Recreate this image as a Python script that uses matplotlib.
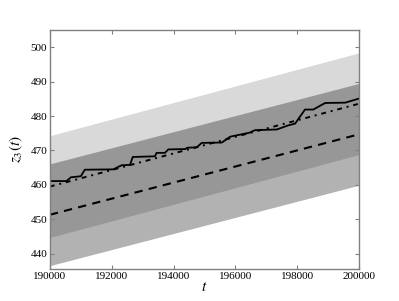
import numpy as np
import matplotlib
matplotlib.use("Agg")
import matplotlib.pyplot as plt

plt.rcParams['font.family'] = ['Liberation Serif', 'DejaVu Serif']
plt.rcParams['mathtext.fontset'] = 'stix'

# Band / trend endpoints
t_ends = [190000, 200000]
dashed_mean = [451.3, 474.7]   # lower band centre (dashed)
dotted_mean = [459.5, 483.6]   # upper band centre (dash-dot)
band_half = 14.8

# Observed trajectory (solid)
t_obs = [190000, 190540, 190680, 191000, 191130, 192050, 192320, 192590, 192680,
         193400, 193450, 193720, 193830, 194370, 194450, 194750, 194910, 195560,
         195830, 196150, 196470, 196630, 197340, 197710, 197930, 198250, 198520,
         198900, 199550, 200000]
z_obs = [461.1, 461.1, 462.2, 462.5, 464.4, 464.5, 465.7, 465.8, 468.1,
         468.3, 469.3, 469.3, 470.3, 470.4, 470.8, 470.9, 472.2, 472.3,
         474.0, 474.6, 475.2, 475.9, 476.1, 477.3, 477.8, 481.9, 481.9,
         483.8, 483.9, 485.1]

xticks = [190000, 192000, 194000, 196000, 198000, 200000]
yticks = [440, 450, 460, 470, 480, 490, 500]

fig = plt.figure(figsize=(3.99, 3.01), dpi=100)
ax = fig.add_axes([0.125, 0.106, 0.775, 0.794])

t = np.array(t_ends, dtype=float)
dm = np.array(dashed_mean)
om = np.array(dotted_mean)
ax.fill_between(t, om - band_half, om + band_half, color='black', alpha=0.15, lw=0)
ax.fill_between(t, dm - band_half, dm + band_half, color='black', alpha=0.3, lw=0)

ax.plot(t_obs, z_obs, color='black', lw=1.3)
ax.plot(t, om, color='black', lw=1.4, dashes=(2.5, 2.5, 1, 2.5))
ax.plot(t, dm, color='black', lw=1.5, dashes=(4, 3))

ax.set_xlim(190000, 200000)
ax.set_ylim(435.5, 505)
ax.set_xticks(xticks)
ax.set_yticks(yticks)
ax.tick_params(direction='in', top=True, right=True, labelsize=8, length=3,
               color='#808080', pad=2)
for s in ax.spines.values():
    s.set_color('#808080')
    s.set_linewidth(1.0)
ax.set_xlabel('$t$', fontsize=11, labelpad=0)
ax.set_ylabel('$z_3(t)$', fontsize=11, labelpad=4)

fig.savefig('out.png', dpi=100)
